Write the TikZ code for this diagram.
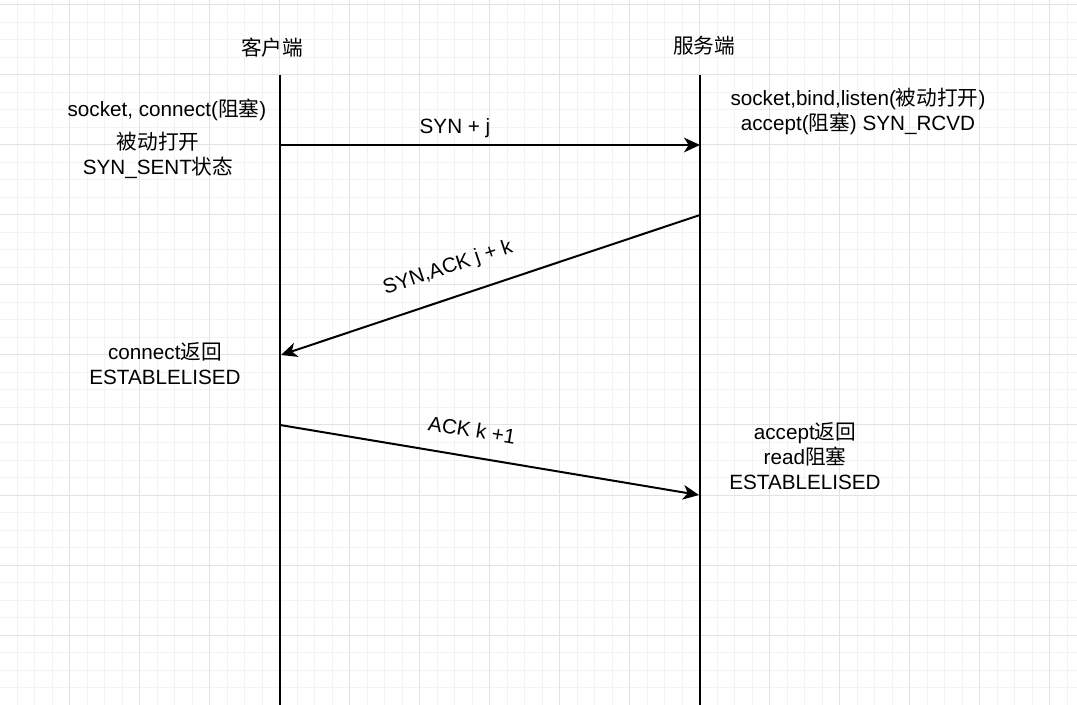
\documentclass[tikz,border=0pt]{standalone}
\usepackage{fontspec}
\setmainfont{Liberation Sans}
\newfontfamily\cjk{Noto Sans CJK SC}
\usetikzlibrary{arrows.meta}
\definecolor{minorgridc}{HTML}{F3F3F3}
\definecolor{majorgridc}{HTML}{E2E2E2}
\tikzset{
  minorgrid/.style={draw=minorgridc, line width=0.75pt},
  majorgrid/.style={draw=majorgridc, line width=0.75pt},
  lifeline/.style={draw=black, line width=1.5pt},
  msg/.style={draw=black, line width=1.5pt, -{Stealth[length=12pt,width=11pt,inset=3.5pt]}},
  txt/.style={font=\fontsize{15.5}{18.9}\selectfont, align=center, inner sep=0pt, text=black},
}
\begin{document}
\begin{tikzpicture}[x=0.75pt, y=-0.75pt]
\useasboundingbox (0,0) rectangle (1077,705);
\fill[white] (0,0) rectangle (1077,705);
% grid
\foreach \i in {0,...,62} \draw[minorgrid] ({-0.5+17.5*\i},0) -- ++(0,705);
\foreach \i in {0,...,40} \draw[minorgrid] (0,{5+17.5*\i}) -- ++(1077,0);
\foreach \i in {0,...,15} \draw[majorgrid] ({-0.5+70*\i},0) -- ++(0,705);
\foreach \i in {0,...,10} \draw[majorgrid] (0,{5+70*\i}) -- ++(1077,0);

% lifelines
\coordinate (c0) at (280,75);
\coordinate (c1) at (280,706);
\coordinate (s0) at (700,75);
\coordinate (s1) at (700,706);
\draw[lifeline] (c0) -- (c1);
\draw[lifeline] (s0) -- (s1);

% message end points
\coordinate (m1a) at (280,145);
\coordinate (m1b) at (700,145);
\coordinate (m2a) at (700,215);
\coordinate (m2b) at (281,355);
\coordinate (m3a) at (280,425);
\coordinate (m3b) at (699,495);
\draw[msg] (m1a) -- (m1b);
\draw[msg] (m2a) -- (m2b);
\draw[msg] (m3a) -- (m3b);

% texts
\node[txt] (client) at (272,48) {\cjk 客户端};
\node[txt] (server) at (704,46) {\cjk 服务端};
\node[txt] (csock) at (167,110) {socket, connect({\cjk 阻塞})};
\node[txt] (cpass) at (158,155) {{\cjk 被动打开}\\SYN\_SENT{\cjk 状态}};
\node[txt] (ssock) at (858,111.5) {socket,bind,listen({\cjk 被动打开})\\accept({\cjk 阻塞}) SYN\_RCVD};
\node[txt] (l1) at (455,128) {SYN + j};
\node[txt, rotate=18.43] (l2) at (448,268) {SYN,ACK j + k};
\node[txt] (cret) at (165,363.5) {connect{\cjk 返回}\\ESTABLELISED};
\node[txt, rotate=-9.46] (l3) at (472,430) {ACK k +1};
\node[txt] (sret) at (805,456) {accept{\cjk 返回}\\read{\cjk 阻塞}\\ESTABLELISED};
\end{tikzpicture}
\end{document}
